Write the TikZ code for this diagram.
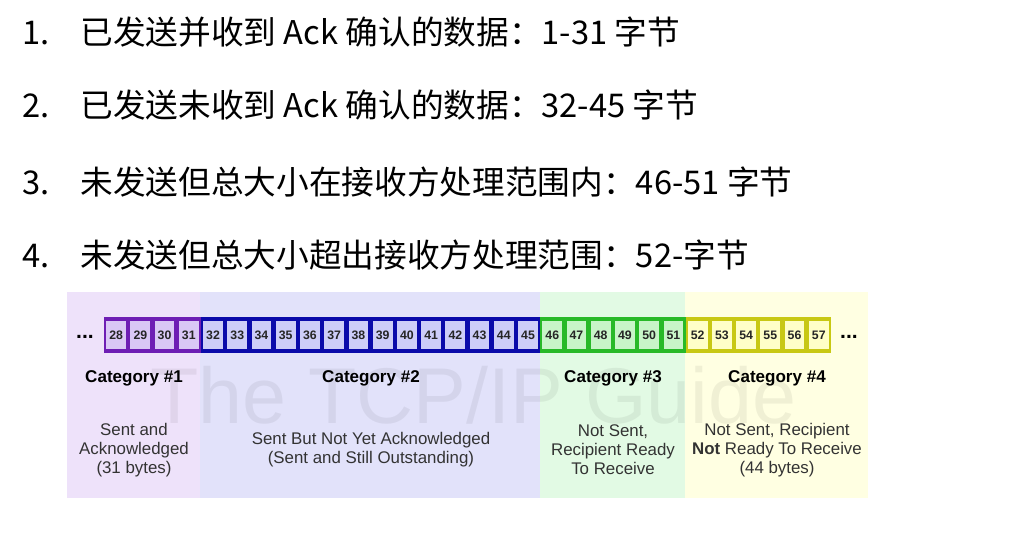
\documentclass[tikz,border=0pt]{standalone}
\usepackage{fontspec}
\setmainfont{Liberation Sans}
\newfontfamily\cjk{Noto Sans CJK SC}

% colori delle quattro categorie
\definecolor{sfondoA}{RGB}{238,226,250}
\definecolor{sfondoB}{RGB}{226,226,250}
\definecolor{sfondoC}{RGB}{226,250,228}
\definecolor{sfondoD}{RGB}{255,255,226}
\definecolor{bordoA}{RGB}{110,30,180}
\definecolor{bordoB}{RGB}{10,10,170}
\definecolor{bordoC}{RGB}{40,185,40}
\definecolor{bordoD}{RGB}{200,200,20}
\definecolor{cellaA}{RGB}{218,200,245}
\definecolor{cellaB}{RGB}{205,205,248}
\definecolor{cellaC}{RGB}{200,245,200}
\definecolor{cellaD}{RGB}{255,255,200}

\begin{document}
\begin{tikzpicture}[x=0.02cm, y=-0.02cm,
    riga/.style={anchor=base west, inner sep=0pt, font=\cjk\fontsize{18.6}{20}\selectfont},
    cella/.style={inner sep=0pt, minimum width=0.395cm, minimum height=0.55cm,
        font=\fontsize{7}{8}\selectfont\bfseries, text=black!85},
    categoria/.style={font=\fontsize{9.7}{11}\selectfont\bfseries},
    descr/.style={align=center, font=\fontsize{9.6}{10.8}\selectfont, text=black!80}]
    \useasboundingbox (0,0) rectangle (1016,546);

    % Elenco
    \node[riga] (num1) at (22,45) {1.};
    \node[riga] (riga1) at (80,45) {已发送并收到 Ack 确认的数据：1-31 字节};
    \node[riga] (num2) at (22,118) {2.};
    \node[riga] (riga2) at (80,118) {已发送未收到 Ack 确认的数据：32-45 字节};
    \node[riga] (num3) at (22,195) {3.};
    \node[riga] (riga3) at (80,195) {未发送但总大小在接收方处理范围内：46-51 字节};
    \node[riga] (num4) at (22,268) {4.};
    \node[riga] (riga4) at (80,268) {未发送但总大小超出接收方处理范围：52-字节};

    % Fasce di sfondo
    \fill[sfondoA] (67,292) rectangle (200,498);
    \fill[sfondoB] (200,292) rectangle (540,498);
    \fill[sfondoC] (540,292) rectangle (685,498);
    \fill[sfondoD] (685,292) rectangle (868,498);

    % Filigrana
    \node[anchor=base west, inner sep=0pt, text=black, opacity=0.06,
        font=\fontsize{45}{50}\selectfont] (filigrana) at (150,423) {The TCP/IP Guide};

    % Byte 28-57
    \foreach \primo/\ultimo/\bordo/\riemp in {28/31/bordoA/cellaA, 32/45/bordoB/cellaB,
        46/51/bordoC/cellaC, 52/57/bordoD/cellaD} {
        \fill[\bordo] ({104+(\primo-28)*24.23},317) rectangle ({104+(\ultimo-27)*24.23},353);
        \foreach \n in {\primo,...,\ultimo}
            \node[cella, fill=\riemp] (c\n) at ({104+(\n-27.5)*24.23},335) {\n};
    }
    \node[anchor=base, font=\fontsize{12}{13}\selectfont\bfseries] (puntiS) at (85,339) {...};
    \node[anchor=base, font=\fontsize{12}{13}\selectfont\bfseries] (puntiD) at (849,339) {...};

    % Categorie
    \node[categoria] (cat1) at (134,378) {Category \#1};
    \node[categoria] (cat2) at (371,378) {Category \#2};
    \node[categoria] (cat3) at (613,378) {Category \#3};
    \node[categoria] (cat4) at (777,378) {Category \#4};

    \node[descr] (desc1) at (134,450) {Sent and\\Acknowledged\\(31 bytes)};
    \node[descr] (desc2) at (371,450) {Sent But Not Yet Acknowledged\\(Sent and Still Outstanding)};
    \node[descr] (desc3) at (613,450) {Not Sent,\\Recipient Ready\\To Receive};
    \node[descr] (desc4) at (777,450) {Not Sent, Recipient\\\textbf{Not} Ready To Receive\\(44 bytes)};
\end{tikzpicture}
\end{document}
